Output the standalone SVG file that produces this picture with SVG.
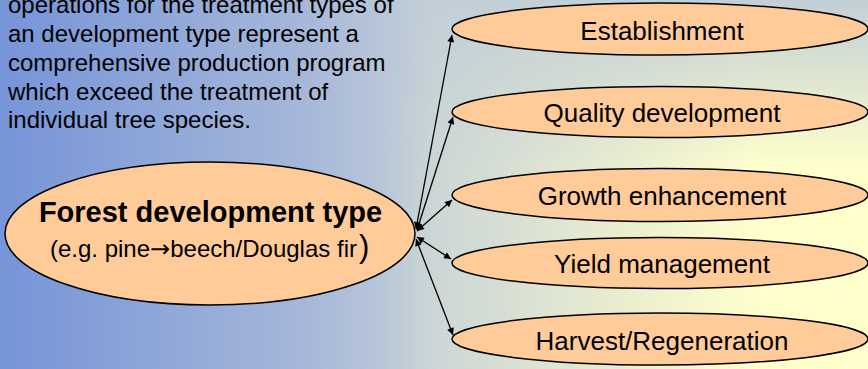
<svg xmlns="http://www.w3.org/2000/svg" width="868" height="369" viewBox="0 0 868 369">
<defs>
<linearGradient id="bgH" x1="0" y1="0" x2="868" y2="0" gradientUnits="userSpaceOnUse">
<stop offset="0" stop-color="#7694d8"/>
<stop offset="0.35" stop-color="#a6b7d9"/>
<stop offset="0.5" stop-color="#c4d0d8"/>
<stop offset="1" stop-color="#c2cfd6"/>
</linearGradient>
<linearGradient id="yelH" x1="380" y1="0" x2="760" y2="0" gradientUnits="userSpaceOnUse">
<stop offset="0" stop-color="#ffffcc" stop-opacity="0"/>
<stop offset="1" stop-color="#ffffcc" stop-opacity="1"/>
</linearGradient>
<linearGradient id="vMask" x1="0" y1="0" x2="0" y2="369" gradientUnits="userSpaceOnUse">
<stop offset="0" stop-color="#000"/>
<stop offset="0.45" stop-color="#fff"/>
<stop offset="1" stop-color="#fff"/>
</linearGradient>
<mask id="m" maskUnits="userSpaceOnUse" x="0" y="0" width="868" height="369">
<rect width="868" height="369" fill="url(#vMask)"/>
</mask>
<marker id="ah" viewBox="0 0 10 10" refX="10" refY="5" markerWidth="9" markerHeight="7" markerUnits="userSpaceOnUse" orient="auto-start-reverse">
<path d="M0,0 L10,5 L0,10 z" fill="#000"/>
</marker>
</defs>
<style>
.node ellipse{fill:#ffcc99;stroke:#000;stroke-width:1.5}
.lbl{font-family:"Liberation Sans",Arial,sans-serif;font-size:26px;fill:#000;text-anchor:middle}
.intro{font-family:"Liberation Sans",Arial,sans-serif;font-size:24px;fill:#000}
.conn line{stroke:#000;stroke-width:1.3;marker-start:url(#ah);marker-end:url(#ah)}
</style>
<rect width="868" height="369" fill="url(#bgH)"/>
<rect width="868" height="369" fill="url(#yelH)" mask="url(#m)"/>

<text class="intro" x="8">
<tspan x="8" y="13">operations for the treatment types of</tspan>
<tspan x="8" y="42">an development type represent a</tspan>
<tspan x="8" y="71">comprehensive production program</tspan>
<tspan x="8" y="99.5">which exceed the treatment of</tspan>
<tspan x="8" y="128">individual tree species.</tspan>
</text>

<g id="fdt" class="node">
<ellipse cx="210" cy="233.5" rx="205" ry="71.5"/>
<text x="210.5" y="222" font-family="Liberation Sans, Arial, sans-serif" font-size="29" font-weight="bold" text-anchor="middle">Forest development type</text>
<text x="50" y="257" font-family="Liberation Sans, Arial, sans-serif" font-size="24">(e.g. pine<tspan font-family="DejaVu Sans, sans-serif" font-size="24">→</tspan>beech/Douglas fir<tspan font-size="31" dx="2">)</tspan></text>
</g>

<g id="establishment" class="node">
<ellipse cx="660" cy="29" rx="208" ry="26"/>
<text class="lbl" x="662" y="40">Establishment</text>
</g>
<g id="quality" class="node">
<ellipse cx="660" cy="112" rx="208" ry="25.5"/>
<text class="lbl" x="662" y="121.5">Quality development</text>
</g>
<g id="growth" class="node">
<ellipse cx="660" cy="195" rx="208" ry="26.5"/>
<text class="lbl" x="662" y="205">Growth enhancement</text>
</g>
<g id="yield" class="node">
<ellipse cx="660" cy="263" rx="208" ry="25.5"/>
<text class="lbl" x="662" y="273">Yield management</text>
</g>
<g id="harvest" class="node">
<ellipse cx="660" cy="339" rx="208" ry="26"/>
<text class="lbl" x="662" y="350">Harvest/Regeneration</text>
</g>

<g id="connectors" class="conn">
<line x1="416" y1="229" x2="452" y2="35"/>
<line x1="417" y1="230" x2="453" y2="117"/>
<line x1="417" y1="231" x2="452" y2="200"/>
<line x1="417" y1="237" x2="451" y2="259"/>
<line x1="416" y1="239" x2="453" y2="335"/>
</g>
</svg>
